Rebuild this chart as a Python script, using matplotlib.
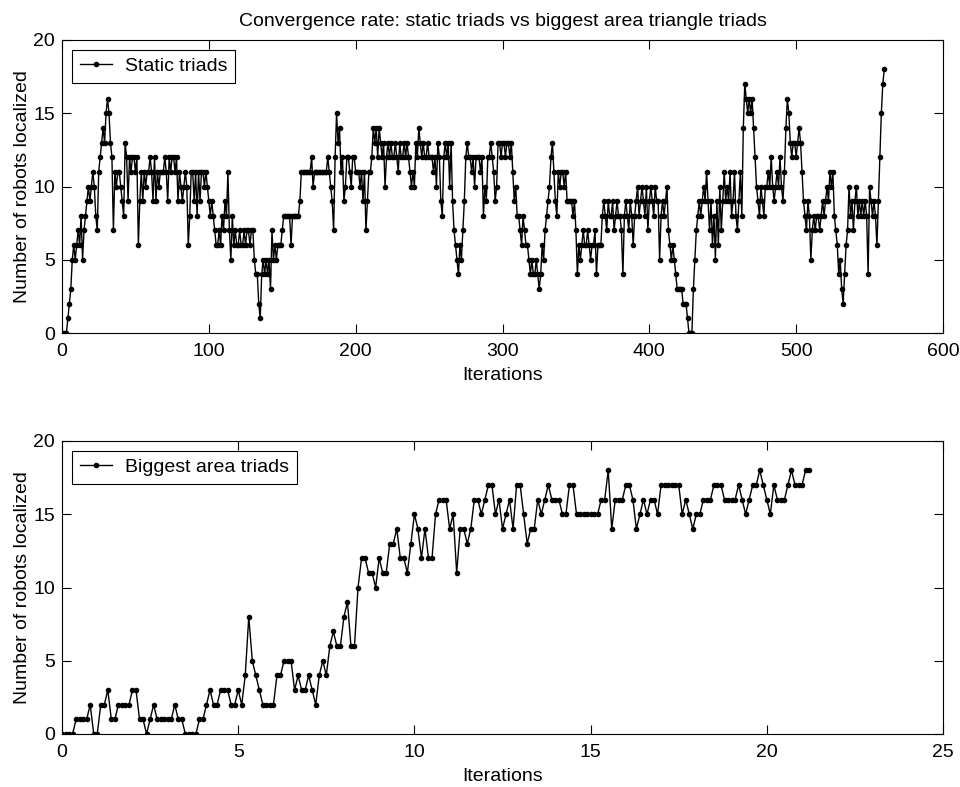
import numpy as np
import matplotlib
matplotlib.use("Agg")
import matplotlib.pyplot as plt

plt.rcParams['font.family'] = ['Liberation Sans', 'DejaVu Sans']

# Number of robots localized at each iteration with fixed (static) triads
static_triads = [
    0, 0, 0, 1, 2, 3, 5, 6, 5, 6,
    7, 6, 8, 5, 7, 8, 9,
    10, 9, 10, 11, 10, 8, 7, 11,
    12, 13, 14, 13, 15, 16, 15, 13,
    12, 7,
    11, 10, 11, 11, 10, 9, 8, 13, 12, 9, 12, 11, 12, 12, 11, 12, 6, 9, 11, 9,
    11, 10, 11, 11, 12, 11, 9, 12, 9, 11, 10, 11, 11, 11, 12, 11, 9, 12, 11, 12,
    12, 11, 12, 9, 11, 10, 9, 10, 11, 10, 6, 8, 11, 11, 9, 11, 8, 11, 9, 11, 11, 10,
    11, 10, 9, 8, 9, 8,
    7, 6, 6, 7, 6,
    8, 7, 9, 8, 11, 7, 5, 8,
    6, 7, 6, 6, 7, 6, 6, 7, 6, 7, 7, 6, 7, 7,
    5, 4, 4, 2, 1, 4, 5, 4, 5, 4, 5, 3, 7, 5, 6, 5, 6,
    6, 6, 7, 8, 8,
    8, 8, 8, 6, 8, 8, 8, 8, 8, 9,
    11, 11, 11, 11, 11, 11, 11, 12, 10, 11, 11, 11, 11, 11, 11, 11, 11, 11,
    12, 11, 10, 9, 7, 12, 15, 13, 14, 11, 12, 9,
    10, 12, 12, 11, 10, 12, 12,
    11, 11, 11, 10, 11, 9, 11, 7, 9, 11, 11,
    12, 14, 13, 14, 12, 14, 13,
    12, 13, 10, 12, 13, 12, 13, 12, 12, 13, 12, 11, 13, 12, 12, 13, 12, 13, 12,
    11, 10, 11, 10,
    13, 12, 14, 13, 12, 13, 12, 12, 13, 12,
    12, 12, 11, 12, 10, 13, 12, 9, 8, 12, 13, 12, 13, 10, 13,
    9, 7, 6, 5, 4, 6, 5, 7, 9,
    12, 13, 12, 12, 11, 12, 10, 12, 12, 12, 11, 12, 8, 10, 9, 12, 12,
    13, 12, 11, 9, 10, 13,
    13, 12, 13, 13, 12, 13, 13, 12, 13,
    11, 9, 10,
    8, 8, 7, 6, 8,
    7, 6, 6,
    5, 4, 5, 4, 4, 5, 4, 3, 4,
    6, 5, 7, 8,
    9, 10, 12, 13, 11,
    9, 8, 11, 10, 11, 11, 10, 11, 9, 9,
    9, 9, 8, 9, 7, 4, 6,
    5, 6, 7, 6, 6, 7, 6, 5, 6, 6, 7, 4, 6, 6, 6,
    8, 9, 8, 7, 9, 8, 8, 9, 7, 8, 9, 8, 8, 7, 4, 8, 9, 8, 7, 9, 8, 6, 8, 9, 10, 8, 9,
    10, 9, 8, 10, 7, 9, 10, 9, 8, 10, 9, 9, 5, 8, 9, 8, 9, 10, 7,
    6, 5, 6, 5, 4, 3, 3, 3, 3, 2,
    2, 2, 1, 0, 0, 0,
    3, 5, 7, 8,
    9, 8, 9, 10, 9, 11, 9, 7, 9, 6, 8, 5, 9, 6, 10, 7, 9, 11, 9, 10, 9, 11, 8, 9,
    11, 8, 7, 9, 11, 8,
    14, 17, 16, 15, 16, 15, 16, 14, 12,
    10, 9, 8, 10, 9, 8, 10,
    10, 11, 10, 12, 10, 9, 10, 11, 10, 12, 10, 9, 11,
    14, 16, 15,
    13, 12, 13, 13, 12, 13, 14, 13,
    11, 9,
    8, 7, 9, 8, 5, 7, 8, 7, 8, 8, 7, 8,
    9, 8, 9, 10, 9, 11, 10, 11,
    8, 7, 6, 4, 5, 3, 2, 4, 6,
    7, 10, 8, 9, 7, 9, 10,
    8, 9, 8, 9, 8, 9, 8, 4, 10, 9, 8, 9, 8, 6,
    9, 12, 15, 17, 18,
]

# Number of robots localized when triads are chosen by biggest triangle area
biggest_area = [
    0, 0, 0, 0, 1, 1, 1, 1, 2, 0, 0, 2, 2, 3, 1, 1, 2, 2, 2, 2, 3, 3, 1, 1, 0, 1, 2,
    1, 1, 1, 1, 1, 2, 1, 1, 0, 0, 0, 0, 1, 1, 2, 3, 2, 2, 3, 3, 3, 2, 2, 3, 2, 4, 8,
    5, 4, 3, 2, 2, 2, 2, 4, 4, 5, 5, 5, 3, 4, 3, 3, 4, 3, 2, 4, 5, 4, 6, 7, 6, 6, 8,
    9, 6, 6, 10, 12, 12, 11, 11, 10, 12, 11, 11, 13, 13, 14, 12, 12, 11, 13, 15, 14,
    12, 14, 12, 12, 15, 16,
    16, 16, 14, 15, 11, 14, 14, 13, 14, 16, 16, 15, 16, 17, 17, 15, 16, 14, 15, 16,
    14, 17, 17, 15, 13, 14, 14, 16, 15, 16, 17, 16, 16, 16, 15, 15, 17, 17, 15, 15,
    15, 15, 15, 15, 15, 16, 16, 18, 14, 16, 16, 16, 17, 17,
    16, 14, 15, 16, 15, 16, 16, 15, 17, 17, 17, 17, 17, 17, 15, 16, 15, 14, 15, 15,
    16, 16, 16, 17, 17, 17, 16, 16, 16, 16, 17, 16, 15, 16, 17, 17, 18, 17, 16, 15,
    17, 16, 16, 16, 17, 18, 17, 17, 17, 18, 18,
]
iteration_step = 0.1

static_x = np.arange(1, len(static_triads) + 1)
area_x = np.arange(len(biggest_area)) * iteration_step

fig = plt.figure(figsize=(9.6, 7.87), dpi=100)
ax1 = fig.add_axes([62 / 960, 1 - 333 / 787, 881 / 960, 293 / 787])
ax2 = fig.add_axes([62 / 960, 1 - 734 / 787, 881 / 960, 293 / 787])

line_kw = dict(color='black', linewidth=1.0, marker='o', markersize=3.0,
               markerfacecolor='black', markeredgecolor='black')
fs = 14

ax1.plot(static_x, static_triads, label='Static triads', **line_kw)
ax2.plot(area_x, biggest_area, label='Biggest area triads', **line_kw)

for ax, xmax, xstep in ((ax1, 600, 100), (ax2, 25, 5)):
    ax.set_xlim(0, xmax)
    ax.set_ylim(0, 20)
    ax.set_xticks(np.arange(0, xmax + xstep, xstep))
    ax.set_yticks(np.arange(0, 21, 5))
    ax.tick_params(direction='in', top=True, right=True, length=6.5, width=0.8,
                   labelsize=fs)
    ax.tick_params(axis='x', pad=7)
    ax.tick_params(axis='y', pad=5)
    for sp in ax.spines.values():
        sp.set_linewidth(0.8)
    ax.set_xlabel('Iterations', fontsize=fs, labelpad=5)
    ax.set_ylabel('Number of robots localized', fontsize=fs, labelpad=2)
    leg = ax.legend(loc='upper left', fontsize=fs, frameon=True, fancybox=False,
                    edgecolor='black', framealpha=1, borderpad=0.4,
                    handlelength=1.65, handletextpad=0.7, borderaxespad=0.5,
                    numpoints=1)
    leg.get_frame().set_linewidth(0.8)

ax1.set_title('Convergence rate: static triads vs biggest area triangle triads',
              fontsize=fs, pad=10)

fig.savefig('out.png', dpi=100)
